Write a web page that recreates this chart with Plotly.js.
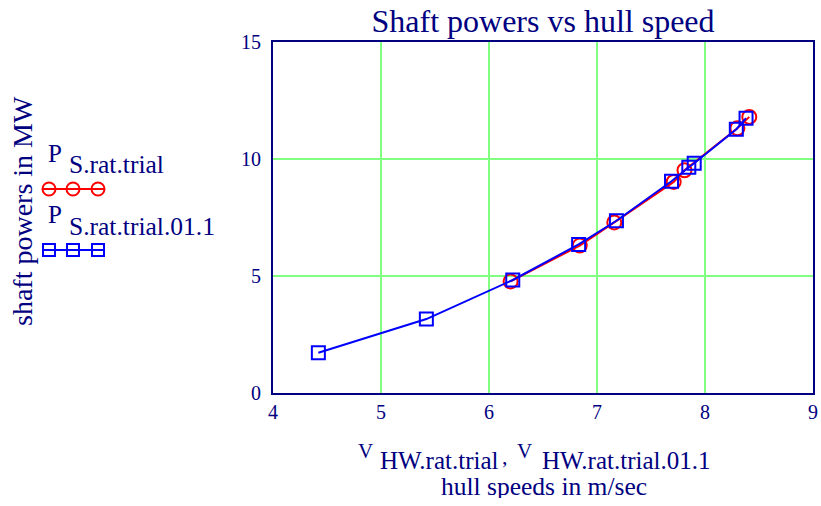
<!DOCTYPE html>
<html>
<head>
<meta charset="utf-8">
<script src="https://cdn.plot.ly/plotly-3.0.1.min.js"></script>
<style>html,body{margin:0;padding:0;background:#fff;}#chart{width:821px;height:506px;}</style>
</head>
<body>
<div id="chart"></div>
<script>
// Data
const vHWRatTrial = [6.20, 6.84, 7.16, 7.71, 7.81, 8.30, 8.41];
const pSRatTrial  = [4.77, 6.30, 7.29, 9.02, 9.52, 11.31, 11.80];
const vHWRatTrial011 = [4.42, 5.42, 6.22, 6.83, 7.18, 7.69, 7.85, 7.90, 8.29, 8.38];
const pSRatTrial011  = [1.72, 3.16, 4.83, 6.35, 7.36, 9.05, 9.65, 9.82, 11.27, 11.74];
const xTicks = [4, 5, 6, 7, 8, 9];
const yTicks = [0, 5, 10, 15];

const NAVY = '#000080';
const FONT = 'Liberation Serif';
const L = 273, R = 813, T = 42, B = 393;
const px = x => (x - L) / (R - L);
const py = y => (B - y) / (B - T);

const traces = [
  {x: vHWRatTrial, y: pSRatTrial, mode: 'lines+markers', type: 'scatter',
   line: {color: '#ff0000', width: 2},
   marker: {symbol: 'circle-open', size: 14, color: '#ff0000', line: {width: 2, color: '#ff0000'}},
   showlegend: false, cliponaxis: false},
  {x: vHWRatTrial011, y: pSRatTrial011, mode: 'lines+markers', type: 'scatter',
   line: {color: '#0000ff', width: 2},
   marker: {symbol: 'square-open', size: 13, color: '#0000ff', line: {width: 2, color: '#0000ff'}},
   showlegend: false, cliponaxis: false}
];

function ann(text, x, y, size, opts) {
  return Object.assign({text: text, xref: 'paper', yref: 'paper', x: px(x), y: py(y),
    xanchor: 'left', yanchor: 'middle', showarrow: false,
    font: {family: FONT, size: size, color: NAVY}}, opts || {});
}

const annotations = [
  ann('shaft powers in MW', 22, 211, 28, {xanchor: 'center', textangle: -90}),
  ann('P', 46, 153, 25),
  ann('S.rat.trial', 67, 164, 25.5),
  ann('P', 46, 214, 25),
  ann('S.rat.trial.01.1', 67, 226, 25.5),
  ann('V', 356, 451, 21),
  ann('HW.rat.trial', 378, 460, 25, {height: 22}),
  ann(',', 500, 456, 22),
  ann('V', 515, 451, 21),
  ann('HW.rat.trial.01.1', 540, 460, 25, {height: 22}),
  ann('hull speeds in m/sec', 544, 486, 25.5, {xanchor: 'center', height: 24})
];

const shapes = [];
function legendLine(y, color, sym) {
  shapes.push({type: 'line', xref: 'paper', yref: 'paper', x0: px(43), x1: px(105), y0: py(y), y1: py(y),
    line: {color: color, width: 2}});
  [49, 73, 98].forEach(cx => {
    const r = sym === 'circle' ? 6.5 : 6;
    shapes.push({type: sym === 'circle' ? 'circle' : 'rect', xref: 'paper', yref: 'paper',
      x0: px(cx - r), x1: px(cx + r), y0: py(y + r), y1: py(y - r),
      line: {color: color, width: 2}, fillcolor: 'rgba(0,0,0,0)'});
  });
}
legendLine(189, '#ff0000', 'circle');
legendLine(250, '#0000ff', 'square');

const layout = {
  width: 821, height: 506,
  margin: {l: L, r: 821 - R, t: T, b: 506 - B, pad: 0},
  paper_bgcolor: '#ffffff', plot_bgcolor: '#ffffff',
  title: {text: 'Shaft powers vs hull speed', x: 0.5 * (L + R) / 821, xanchor: 'center',
          y: 1 - 21 / 506, yanchor: 'middle',
          font: {family: FONT, size: 32, color: NAVY}},
  showlegend: false,
  xaxis: {range: [4, 9], tickvals: xTicks, ticktext: xTicks.map(String),
    showgrid: true, gridcolor: '#80ff80', gridwidth: 1.5, zeroline: false,
    showline: true, linecolor: NAVY, linewidth: 2, mirror: true, ticks: '',
    tickfont: {family: FONT, size: 20, color: NAVY}, ticklabelstandoff: 0},
  yaxis: {range: [0, 15], tickvals: yTicks, ticktext: yTicks.map(String),
    showgrid: true, gridcolor: '#80ff80', gridwidth: 1.5, zeroline: false,
    showline: true, linecolor: NAVY, linewidth: 2, mirror: true, ticks: '',
    tickfont: {family: FONT, size: 20, color: NAVY}, ticklabelstandoff: 6},
  annotations: annotations,
  shapes: shapes
};

Plotly.newPlot('chart', traces, layout, {displayModeBar: false, staticPlot: true});
</script>
</body>
</html>
